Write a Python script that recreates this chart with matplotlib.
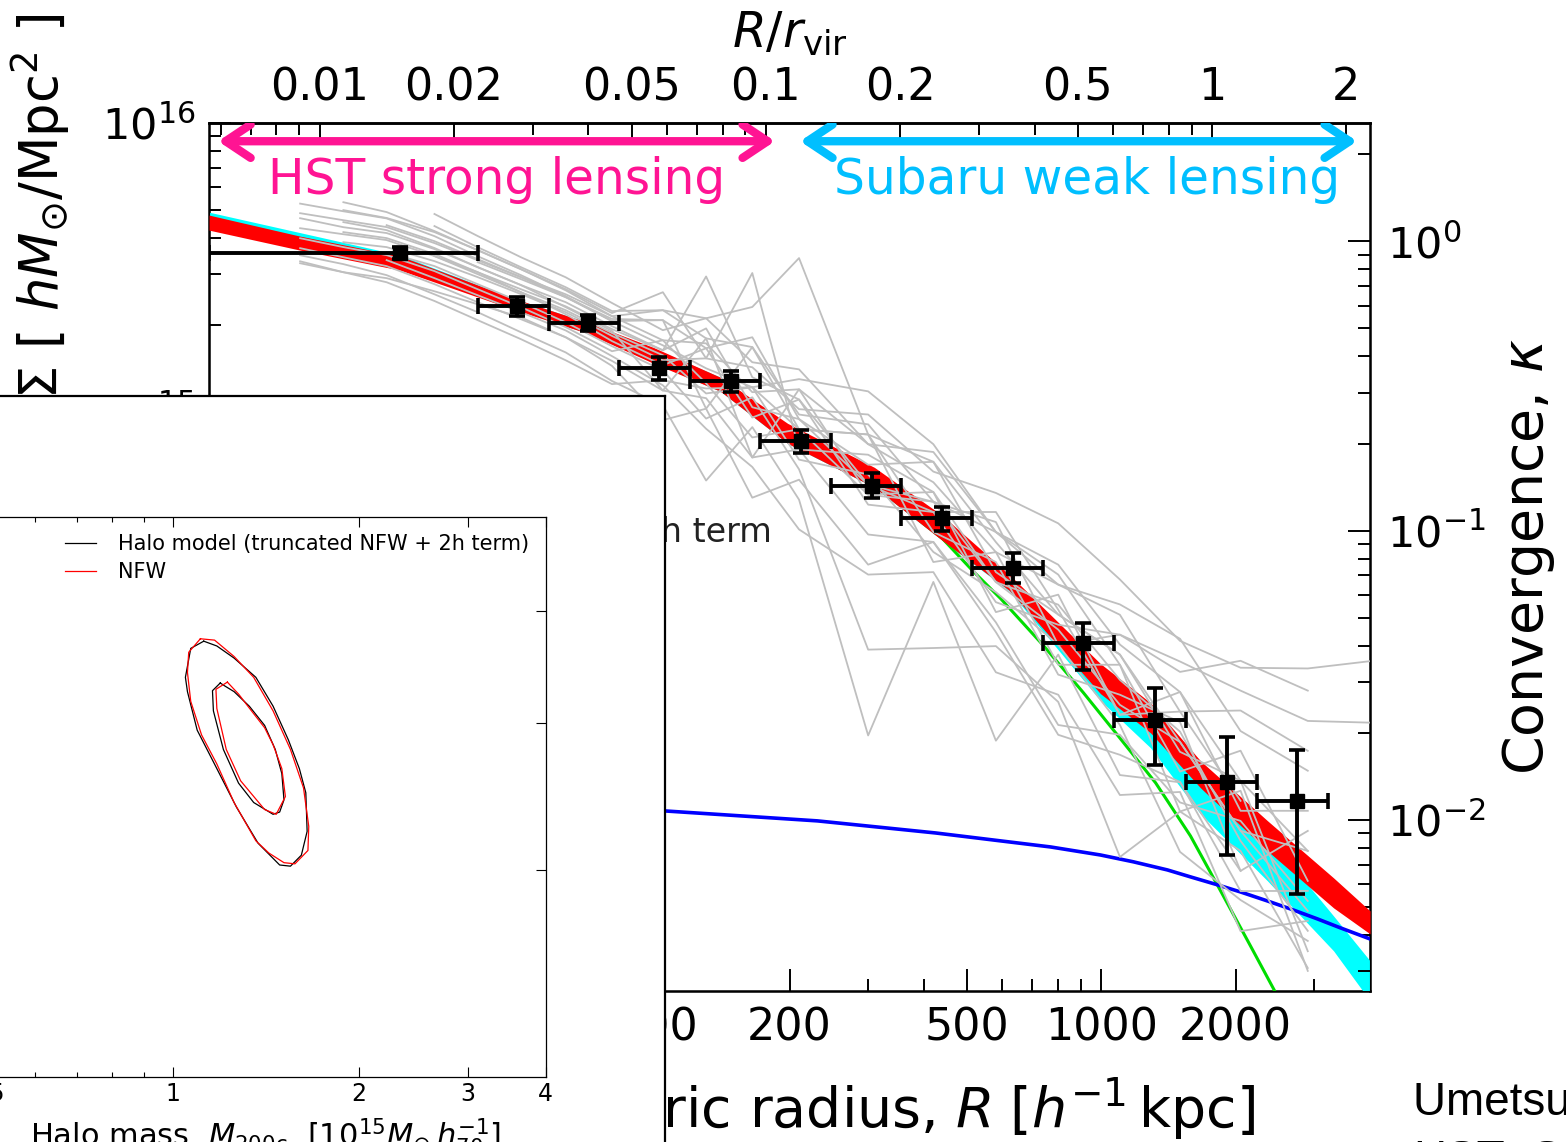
import numpy as np
import matplotlib.pyplot as plt
from matplotlib import ticker
from matplotlib.patches import FancyArrowPatch

nan = np.nan

# critical surface density and virial radius used for the two extra axes
SIGMA_CRIT = 3.9e15
RVIR = 1770.0

# stacked data points (R in kpc/h, convergence kappa)
R_PTS = [26.8, 49.0, 70.8, 102, 148, 212.5, 306.6, 440, 635, 911, 1315, 1907, 2750]
R_LO = [10, 40.1, 57.8, 83.1, 119.8, 172, 248, 356, 514, 741, 1069, 1543, 2226]
R_HI = [40.1, 57.8, 83.1, 119.8, 172, 248, 356, 514, 741, 1069, 1543, 2226, 3211]
K_PTS = [0.910, 0.597, 0.521, 0.364, 0.328, 0.2035, 0.1422, 0.1102, 0.0740, 0.0410, 0.0222, 0.01355, 0.01165]
K_LO = [0.868, 0.551, 0.489, 0.331, 0.3006, 0.1849, 0.1292, 0.1001, 0.0657, 0.0331, 0.01552, 0.00758, 0.00555]
K_HI = [0.954, 0.641, 0.555, 0.397, 0.3555, 0.2222, 0.1577, 0.1203, 0.0834, 0.0481, 0.0287, 0.0194, 0.01749]

# NFW band (red)
R_NFW = [10, 16.0, 26.8, 47.3, 70.4, 99, 140, 198, 310, 440, 622, 995, 1288, 1667, 2356, 3313, 4000]
NFW_HI = [1.232, 1.042, 0.889, 0.641, 0.525, 0.430, 0.339, 0.2349, 0.1654, 0.1128, 0.0705,
          0.0347, 0.02543, 0.01602, 0.00994, 0.00631, 0.00485]
NFW_LO = [1.093, 0.932, 0.795, 0.587, 0.481, 0.379, 0.303, 0.2002, 0.1411, 0.0925, 0.0621,
          0.02733, 0.02002, 0.01292, 0.00782, 0.00497, 0.00404]

# halo model band (cyan)
R_HM = [10, 26.8, 47.3, 70.4, 99, 140, 198, 310, 440, 622, 995, 1288, 1667, 2356, 3313, 4000]
HM_HI = [1.261, 0.896, 0.641, 0.525, 0.427, 0.339, 0.2312, 0.1615, 0.1084, 0.0672, 0.0323,
         0.02293, 0.01422, 0.00882, 0.00466, 0.00326]
HM_LO = [1.111, 0.808, 0.592, 0.481, 0.382, 0.303, 0.2002, 0.1411, 0.0925, 0.0618, 0.02585,
         0.01777, 0.01050, 0.00616, 0.00353, 0.00237]

# 1-halo term (green) and 2-halo term (blue)
R_1H = [10, 26.8, 47.3, 70.4, 99, 140, 198, 310, 440, 514, 594, 741, 911, 1103, 1322, 1583,
        1839, 2158, 2481, 2653]
K_1H = [1.165, 0.840, 0.614, 0.503, 0.4045, 0.321, 0.209, 0.1440, 0.094, 0.0728, 0.0583, 0.0401,
        0.02754, 0.01909, 0.01345, 0.00881, 0.00578, 0.00367, 0.00246, 0.00202]
R_2H = [10, 26.8, 105, 231, 425, 594, 769, 995, 1179, 1406, 1583, 1820, 2050, 2356, 2650, 3050,
        3430, 4000]
K_2H = [0.01147, 0.01129, 0.01075, 0.00993, 0.00902, 0.00847, 0.00807, 0.00757, 0.00717, 0.00672,
        0.00636, 0.00597, 0.00564, 0.00525, 0.00493, 0.00455, 0.00424, 0.00388]

# individual cluster profiles (grey)
GRAY_R = [16, 20, 25, 32, 40, 50, 63, 80, 104, 130, 165, 210, 300, 420, 580, 800, 1100, 1500, 2050, 2900, 4000]
GRAY_K = [
    [nan, nan, nan, 1.243, 1.043, 0.881, 0.751, 0.612, 0.493, 0.542, 0.593, 0.875, 0.215, 0.173, 0.0913, 0.0513, 0.0373, 0.0186, 0.00918, 0.00485, nan],
    [nan, 1.282, 1.204, 1.076, 0.932, 0.801, 0.683, 0.565, 0.667, 0.394, 0.777, 0.191, 0.183, 0.136, 0.0664, 0.0555, 0.0305, 0.0202, 0.00847, 0.00414, nan],
    [1.202, 1.119, 1.068, 0.940, 0.814, 0.706, 0.616, 0.509, 0.420, 0.756, 0.339, 0.284, 0.123, 0.116, 0.116, 0.0533, 0.0231, 0.0237, 0.01165, nan, nan],
    [1.35, 1.27, 1.20, 1.042, 0.888, 0.764, 0.646, 0.530, 0.437, 0.364, 0.313, 0.334, 0.303, 0.199, 0.0989, 0.0763, 0.0404, 0.0277, 0.01367, 0.00782, nan],
    [nan, 0.993, 0.955, 0.854, 0.752, 0.657, 0.569, 0.471, 0.388, 0.394, 0.367, 0.263, 0.252, 0.160, 0.135, 0.106, 0.0678, 0.0416, 0.0336, 0.0334, 0.0354],
    [0.895, 0.834, 0.764, 0.656, 0.569, 0.485, 0.413, 0.329, 0.271, 0.149, 0.228, 0.128, 0.0196, 0.0665, 0.0188, 0.0373, 0.0143, 0.0135, 0.00667, nan, nan],
    [nan, nan, 0.918, 0.821, 0.711, 0.616, 0.525, 0.434, 0.358, 0.244, 0.289, 0.163, 0.0388, 0.0393, 0.0399, 0.0256, 0.00745, 0.0107, 0.00782, 0.00308, nan],
    [0.853, 0.782, 0.722, 0.622, 0.534, 0.459, 0.388, 0.321, 0.331, 0.310, 0.313, 0.176, 0.1564, 0.0844, 0.0613, 0.0403, 0.0213, 0.00776, 0.00529, 0.00382, nan],
    [1.251, 1.183, 1.120, 0.986, 0.860, 0.752, 0.656, 0.551, 0.455, 0.444, 0.301, 0.308, 0.199, 0.147, 0.0843, 0.0651, 0.0556, 0.0423, 0.0203, 0.0148, nan],
    [nan, nan, nan, nan, 0.847, 0.740, 0.641, 0.539, 0.534, 0.427, 0.466, 0.243, 0.144, 0.116, 0.0566, 0.0473, 0.0437, 0.0325, 0.0355, 0.0280, nan],
    [0.947, 0.881, 0.821, 0.711, 0.616, 0.538, 0.466, 0.386, 0.305, 0.287, 0.179, 0.191, 0.097, 0.0914, 0.0482, 0.0213, 0.0197, 0.0115, 0.00993, 0.00525, nan],
    [1.110, 1.058, 1.010, 0.889, 0.770, 0.667, 0.578, 0.482, 0.404, 0.298, 0.313, 0.224, 0.215, 0.0989, 0.0779, 0.0318, 0.0271, 0.0218, 0.00667, 0.00917, nan],
    [nan, 1.365, 1.262, 1.085, 0.932, 0.801, 0.677, 0.551, 0.578, 0.462, 0.431, 0.252, 0.233, 0.126, 0.0989, 0.0705, 0.0344, 0.0147, 0.01736, 0.00616, nan],
    [nan, nan, 0.861, 0.746, 0.651, 0.569, 0.492, 0.401, 0.318, 0.225, 0.166, 0.101, 0.0705, 0.0719, 0.0324, 0.0271, 0.0122, 0.0125, 0.00413, 0.00448, nan],
    [1.025, 0.955, 0.896, 0.789, 0.683, 0.592, 0.505, 0.417, 0.455, 0.323, 0.210, 0.224, 0.133, 0.126, 0.0664, 0.0455, 0.025, 0.0186, 0.00918, 0.00782, nan],
    [nan, nan, nan, 0.889, 0.782, 0.683, 0.596, 0.497, 0.420, 0.500, 0.267, 0.243, 0.169, 0.173, 0.0719, 0.0513, 0.0373, 0.0172, 0.01367, 0.00352, nan],
    [nan, nan, 1.137, 1.001, 0.868, 0.752, 0.641, 0.530, 0.534, 0.264, 0.431, 0.224, 0.215, 0.0779, 0.0843, 0.0344, 0.0344, 0.0107, 0.01262, 0.00301, nan],
    [nan, 1.165, 1.093, 0.948, 0.814, 0.706, 0.592, 0.490, 0.305, 0.462, 0.179, 0.308, 0.1334, 0.136, 0.0523, 0.0601, 0.0231, 0.0277, 0.01076, 0.01076, nan],
    [nan, nan, nan, 1.129, 0.954, 0.814, 0.694, 0.574, 0.578, 0.542, 0.382, 0.361, 0.199, 0.187, 0.0989, 0.0651, 0.0512, 0.0237, 0.0239, 0.01734, nan],
    [0.840, 0.782, 0.746, 0.672, 0.606, 0.546, 0.466, 0.371, 0.241, 0.264, 0.130, 0.150, 0.0763, 0.0914, 0.0446, 0.0197, 0.0168, 0.01354, 0.00568, 0.00569, nan],
    [nan, 1.076, 1.026, 0.904, 0.782, 0.667, 0.560, 0.452, 0.373, 0.427, 0.246, 0.284, 0.1444, 0.1257, 0.1071, 0.0403, 0.0437, 0.0353, 0.0280, 0.0220, 0.0217],
]

BOTTOM_TICKS = [10, 20, 50, 100, 200, 500, 1000, 2000]
TOP_TICKS = [0.01, 0.02, 0.05, 0.1, 0.2, 0.5, 1, 2]

# inset: mass-concentration confidence contours
OUT_BLK_M = [1.123, 1.070, 1.049, 1.057, 1.096, 1.179, 1.268, 1.374, 1.489, 1.550, 1.614, 1.649, 1.641, 1.602, 1.538, 1.453, 1.363, 1.257, 1.179]
OUT_BLK_C = [16.61, 15.88, 13.26, 12.13, 9.54, 7.51, 5.91, 4.72, 4.12, 4.09, 4.38, 5.08, 6.46, 7.51, 8.98, 11.08, 13.26, 14.95, 16.12]
OUT_RED_M = [1.109, 1.169, 1.257, 1.352, 1.453, 1.550, 1.627, 1.659, 1.654, 1.576, 1.513, 1.430, 1.363, 1.257, 1.179, 1.114, 1.070, 1.057, 1.062]
OUT_RED_C = [16.86, 16.72, 15.10, 13.26, 10.76, 8.46, 6.66, 5.24, 4.51, 4.15, 4.18, 4.44, 4.79, 6.08, 7.73, 9.26, 11.42, 13.67, 15.50]
IN_BLK_M = [1.194, 1.160, 1.164, 1.208, 1.278, 1.352, 1.453, 1.489, 1.513, 1.501, 1.465, 1.408, 1.330, 1.257, 1.214]
IN_BLK_C = [12.80, 12.20, 10.76, 8.46, 6.86, 6.08, 5.65, 5.73, 6.18, 7.28, 8.46, 9.83, 11.08, 12.13, 12.57]
IN_RED_M = [1.226, 1.175, 1.179, 1.221, 1.288, 1.408, 1.470, 1.521, 1.501, 1.453, 1.408, 1.341, 1.278]
IN_RED_C = [12.87, 12.31, 10.92, 8.46, 6.96, 5.82, 5.65, 6.31, 7.51, 8.72, 9.69, 10.76, 11.95]


def closed(a):
    return list(a) + [a[0]]


fig = plt.figure(figsize=(15.66, 11.42), dpi=100)

ax = fig.add_axes([0.1335, 0.1322, 0.7414, 0.7601])
ax.set_xscale('log')
ax.set_yscale('log')
ax.set_xlim(10, 4000)
ax.set_ylim(1e13, 1e16)

axk = ax.twinx()
axk.set_yscale('log')
axk.set_ylim(1e13 / SIGMA_CRIT, 1e16 / SIGMA_CRIT)

# models
axk.fill_between(R_HM, HM_LO, HM_HI, color='#00FFFF', lw=0, zorder=1)
axk.plot(R_1H, K_1H, color='#00DD00', lw=2.2, zorder=2)
axk.fill_between(R_NFW, NFW_LO, NFW_HI, color='red', lw=0, zorder=3)
axk.plot(R_2H, K_2H, color='blue', lw=2.6, zorder=4)
for k in GRAY_K:
    axk.plot(GRAY_R, k, color='#BFBFBF', lw=1.3, zorder=5)

r_pts = np.array(R_PTS)
k_pts = np.array(K_PTS)
xerr = [r_pts - np.array(R_LO), np.array(R_HI) - r_pts]
yerr = [k_pts - np.array(K_LO), np.array(K_HI) - k_pts]
axk.errorbar(r_pts, k_pts, xerr=xerr, yerr=yerr, fmt='s', color='black', ms=10,
             elinewidth=2.8, capsize=5.5, capthick=2.6, zorder=6)

# lensing regime arrows
for x0, x1, col, label, xc in [(0.0078, 0.4875, '#FF1493', 'HST strong lensing', 0.248),
                               (0.509, 0.9888, '#00BFFF', 'Subaru weak lensing', 0.756)]:
    arr = FancyArrowPatch((x0, 0.979), (x1, 0.979), transform=axk.transAxes,
                          arrowstyle='<->,head_length=0.45,head_width=0.3',
                          mutation_scale=40, lw=6, color=col, zorder=7,
                          shrinkA=0, shrinkB=0)
    axk.add_patch(arr)
    axk.text(xc, 0.934, label, transform=axk.transAxes, ha='center', va='center',
             fontsize=35, color=col, zorder=7)

axk.text(0.485, 0.517, '1h + 2h term', transform=axk.transAxes, ha='right',
         va='baseline', fontsize=24, color='#222222')

# axes styling
ax.xaxis.set_major_locator(ticker.FixedLocator(BOTTOM_TICKS))
ax.xaxis.set_major_formatter(ticker.FuncFormatter(lambda v, p: f'{v:g}'))
ax.xaxis.set_minor_locator(ticker.LogLocator(base=10, subs=np.arange(2, 10)))
ax.xaxis.set_minor_formatter(ticker.NullFormatter())
ax.tick_params(axis='x', which='both', direction='in', top=False, bottom=True, labelsize=32, pad=11)
ax.tick_params(axis='y', which='both', direction='in', left=True, right=False, labelsize=31, pad=10)
axk.tick_params(axis='y', which='both', direction='in', right=True, left=False, labelsize=31, pad=12)
for a in (ax, axk):
    a.tick_params(which='major', length=16, width=1.4)
    a.tick_params(which='minor', length=8.5, width=1.4)
for s in ax.spines.values():
    s.set_linewidth(1.8)

secax = ax.secondary_xaxis('top', functions=(lambda r: r / RVIR, lambda q: q * RVIR))
secax.xaxis.set_major_locator(ticker.FixedLocator(TOP_TICKS))
secax.xaxis.set_major_formatter(ticker.FuncFormatter(lambda v, p: f'{v:g}'))
secax.xaxis.set_minor_locator(ticker.LogLocator(base=10, subs=np.arange(2, 10)))
secax.xaxis.set_minor_formatter(ticker.NullFormatter())
secax.tick_params(which='both', direction='in', labelsize=32, pad=10, width=1.4)
secax.tick_params(which='major', length=16)
secax.tick_params(which='minor', length=8.5)
secax.spines['top'].set_linewidth(1.8)

ax.text(0.5, 1.087, r'$R/r_{\rm vir}$', transform=ax.transAxes, ha='center',
        va='baseline', fontsize=35)
ax.set_xlabel(r'Cluster-centric radius, $R\;[h^{-1}\,\mathrm{kpc}]$', fontsize=40)
ax.xaxis.set_label_coords(0.5, -0.097)
ax.set_ylabel(r'Surface mass density, $\Sigma\ [\ hM_{\odot}/\mathrm{Mpc}^2\ ]$',
              fontsize=38, loc='top')
ax.yaxis.set_label_coords(-0.118, 1.127)
axk.set_ylabel(r'Convergence, $\kappa$', fontsize=40)
axk.yaxis.set_label_coords(1.112, 0.5)

fig.text(0.9023, 0.0236, 'Umetsu et al. 2011', family='Liberation Sans', fontsize=33,
         ha='left', va='baseline')
fig.text(0.9023, -0.027, 'HST+Subaru', family='Liberation Sans', fontsize=33,
         ha='left', va='baseline')

# inset panel
box = fig.add_axes([-0.01, -0.01, 0.43465, 0.66324])
box.set_xticks([])
box.set_yticks([])
box.set_facecolor('white')
for s in box.spines.values():
    s.set_linewidth(1.6)
box.set_zorder(10)

ins = fig.add_axes([-0.00894, 0.05692, 0.35734, 0.49037])
ins.set_zorder(11)
ins.set_xscale('log')
ins.set_yscale('log')
ins.set_xlim(0.5, 4)
ins.set_ylim(1.1, 36)
ins.plot(closed(OUT_BLK_M), closed(OUT_BLK_C), color='black', lw=0.9,
         label='Halo model (truncated NFW + 2h term)')
ins.plot(closed(OUT_RED_M), closed(OUT_RED_C), color='red', lw=0.9, label='NFW')
ins.plot(closed(IN_BLK_M), closed(IN_BLK_C), color='black', lw=0.9)
ins.plot(closed(IN_RED_M), closed(IN_RED_C), color='red', lw=0.9)
ins.xaxis.set_major_locator(ticker.FixedLocator([0.5, 1, 2, 3, 4]))
ins.xaxis.set_major_formatter(ticker.FuncFormatter(lambda v, p: f'{v:g}'))
ins.xaxis.set_minor_locator(ticker.FixedLocator([0.6, 0.7, 0.8, 0.9]))
ins.xaxis.set_minor_formatter(ticker.NullFormatter())
ins.yaxis.set_major_locator(ticker.FixedLocator([4, 10, 20]))
ins.yaxis.set_minor_locator(ticker.NullLocator())
ins.tick_params(which='both', direction='in', top=True, right=True, labelleft=False,
                labelsize=17, width=0.8)
ins.tick_params(which='major', length=7)
ins.tick_params(which='minor', length=3.6)
for s in ins.spines.values():
    s.set_linewidth(0.9)
ins.set_xlabel(r'Halo mass, $M_{\rm 200c}$  [$10^{15}M_{\odot}\,h_{70}^{-1}$]', fontsize=22,
               labelpad=7)
ins.legend(loc='upper left', bbox_to_anchor=(0.141, 0.970), frameon=False, fontsize=15,
           handlelength=1.5, handletextpad=1.05, borderpad=0, borderaxespad=0,
           labelspacing=0.4)

fig.savefig('out.png', dpi=100)
